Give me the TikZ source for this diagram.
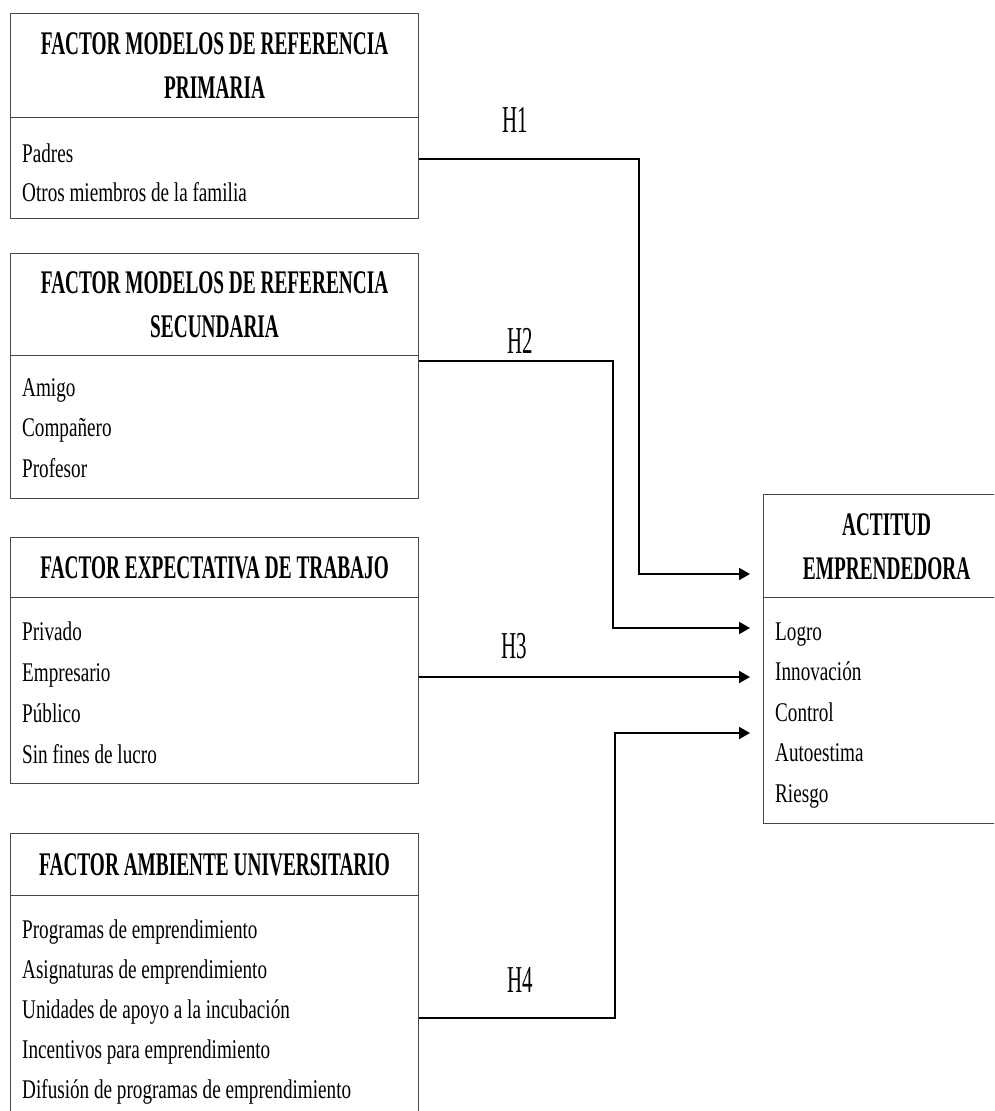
\documentclass[tikz,border=0pt]{standalone}
\usepackage{fontspec}
\setmainfont{Liberation Serif}
\newfontfamily\titlef[FakeStretch=0.585]{Liberation Serif}
\newfontfamily\itemf[FakeStretch=0.71]{Liberation Serif}
\newfontfamily\hypf[FakeStretch=0.55]{Liberation Serif}
\usetikzlibrary{arrows.meta}
\tikzset{
  boxline/.style={draw=black!72, line width=1.2pt},
  hdr/.style={boxline, anchor=north west, inner sep=0pt, align=center, text depth=0pt,
    font=\titlef\bfseries\fontsize{33}{44}\selectfont},
  bdy/.style={boxline, anchor=north west, inner sep=0pt},
  item/.style={anchor=base west, inner sep=0pt, font=\itemf\fontsize{27}{30}\selectfont},
  hyp/.style={anchor=base, inner sep=0pt, font=\hypf\fontsize{38}{40}\selectfont},
  conn/.style={draw=black, line width=2pt},
  arr/.style={conn, -{Triangle[length=11pt,width=12pt]}}
}
\begin{document}
\begin{tikzpicture}[x=1pt,y=-1pt]
\useasboundingbox (0,0) rectangle (994,1111);
\clip (0,0) rectangle (994,1111);
\fill[white] (0,0) rectangle (994,1111);
% box 1
\node[hdr, minimum width=408pt, minimum height=104pt] (h1) at (10,13) {FACTOR MODELOS DE REFERENCIA\\PRIMARIA};
\node[bdy, minimum width=408pt, minimum height=101pt] (b1) at (10,117) {};
\foreach \t [count=\i] in {Padres, Otros miembros de la familia}
  \node[item] (b1i\i) at (22,{162+39*(\i-1)}) {\t};
% box 2
\node[hdr, minimum width=408pt, minimum height=102pt] (h2) at (10,253) {FACTOR MODELOS DE REFERENCIA\\SECUNDARIA};
\node[bdy, minimum width=408pt, minimum height=143pt] (b2) at (10,355) {};
\foreach \t [count=\i] in {Amigo, Compañero, Profesor}
  \node[item] (b2i\i) at (22,{396+40.5*(\i-1)}) {\t};
% box 3
\node[hdr, minimum width=408pt, minimum height=60pt] (h3) at (10,537) {FACTOR EXPECTATIVA DE TRABAJO};
\node[bdy, minimum width=408pt, minimum height=186pt] (b3) at (10,597) {};
\foreach \t [count=\i] in {Privado, Empresario, Público, Sin fines de lucro}
  \node[item] (b3i\i) at (22,{640+41*(\i-1)}) {\t};
% box 4
\node[hdr, minimum width=408pt, minimum height=62pt] (h4) at (10,833) {FACTOR AMBIENTE UNIVERSITARIO};
\node[bdy, minimum width=408pt, minimum height=235pt] (b4) at (10,895) {};
\foreach \t [count=\i] in {Programas de emprendimiento, Asignaturas de emprendimiento, Unidades de apoyo a la incubación, Incentivos para emprendimiento, Difusión de programas de emprendimiento}
  \node[item] (b4i\i) at (22,{938+40*(\i-1)}) {\t};
% right box
\node[hdr, minimum width=246pt, minimum height=103pt] (ha) at (763,494) {ACTITUD\\EMPRENDEDORA};
\node[bdy, minimum width=246pt, minimum height=226pt] (ba) at (763,597) {};
\foreach \t [count=\i] in {Logro, Innovación, Control, Autoestima, Riesgo}
  \node[item] (bai\i) at (775,{640+40.5*(\i-1)}) {\t};
% arrow targets
\coordinate (t1) at (750,574);
\coordinate (t2) at (750,628);
\coordinate (t3) at (750,677);
\coordinate (t4) at (750,733);
% connectors
\draw[arr] ([yshift=9.5pt]b1.east) -- ++(220,0) |- (t1);
\draw[arr] ([yshift=66.5pt]b2.east) -- ++(194,0) |- (t2);
\draw[arr] (t3 -| b3.east) -- (t3);
\draw[arr] ([yshift=-4.5pt]b4.east) -- ++(196,0) |- (t4);
% labels
\node[hyp] (l1) at (515,132) {H1};
\node[hyp] (l2) at (520,353) {H2};
\node[hyp] (l3) at (514,658) {H3};
\node[hyp] (l4) at (520,992) {H4};
\end{tikzpicture}
\end{document}
